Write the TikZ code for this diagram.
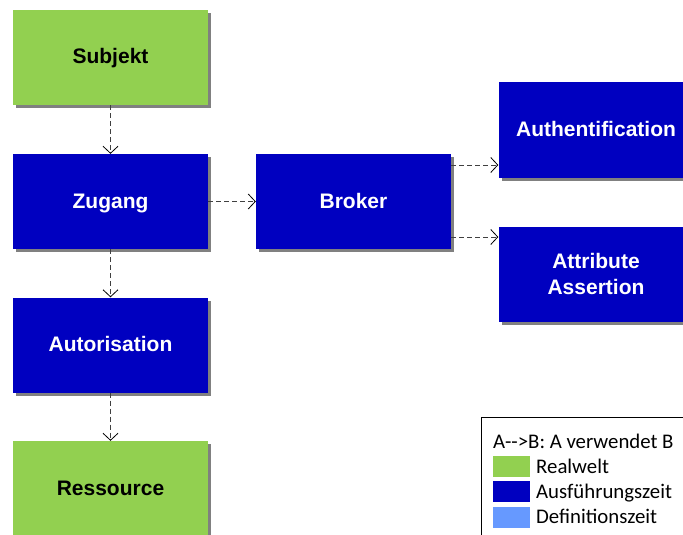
\documentclass[tikz,border=0pt]{standalone}
\usepackage{fontspec}
\setmainfont{Liberation Sans}
\newfontfamily\legendfont{Carlito}
\usetikzlibrary{arrows.meta,shadows}

\definecolor{realgreen}{RGB}{146,208,80}
\definecolor{runblue}{RGB}{0,0,192}
\definecolor{defblue}{RGB}{102,153,255}
\definecolor{shadowgray}{RGB}{128,128,128}
\definecolor{linkgray}{RGB}{64,64,64}

\tikzset{
  block/.style={rectangle, minimum width=195pt, minimum height=95pt, inner sep=0pt,
    font=\fontsize{21}{26}\selectfont\bfseries, align=center,
    drop shadow={shadow xshift=3pt, shadow yshift=-3pt, fill=shadowgray, opacity=1}},
  oneline/.style={text height=14pt, text depth=1pt},
  realblock/.style={block, oneline, fill=realgreen, text=black},
  runblock/.style={block, oneline, fill=runblue, text=white},
  tworunblock/.style={block, fill=runblue, text=white},
  link/.style={draw=linkgray, line width=0.9pt, dash pattern=on 5pt off 3pt,
    -{Straight Barb[length=7pt,width=15pt,line width=0.8pt,color=black]}},
  swatch/.style={rectangle, minimum width=37pt, minimum height=21pt, inner sep=0pt},
  legendtext/.style={anchor=base west, inner sep=0pt, font=\legendfont\fontsize{20.8}{25}\selectfont}
}

\begin{document}
\begin{tikzpicture}[x=1pt,y=-1pt]
  \useasboundingbox (0,0) rectangle (683,535);
  \clip (0,0) rectangle (683,535);

  % main flow
  \node[realblock] (subjekt) at (110.5,57.5) {Subjekt};
  \node[runblock]  (zugang)  at (110.5,201.5) {Zugang};
  \node[runblock]  (broker)  at (353.5,201.5) {Broker};
  \node[runblock]  (autor)   at (110.5,345) {Autorisation};
  \node[realblock] (ress)    at (110.5,488.5) {Ressource};
  \node[runblock]  (auth)    at (596,130) {Authentification};
  \node[tworunblock] (attr)  at (596,274) {Attribute\\Assertion};

  % usage relations
  \draw[link] (subjekt) -- (zugang);
  \draw[link] (zugang) -- (broker);
  \draw[link] (zugang) -- (autor);
  \draw[link] (autor) -- (ress);
  \draw[link] ([yshift=36.5pt]broker.east) coordinate (b1) -- (auth.west |- b1);
  \draw[link] ([yshift=-35.5pt]broker.east) coordinate (b2) -- (attr.west |- b2);

  % legend
  \node[draw=black, line width=1pt, rectangle, minimum width=230pt, minimum height=140pt,
        anchor=north west] (legend) at (481,417) {};
  \node[legendtext] (lgtitle) at (493,448) {A-{}-{}>B: A verwendet B};
  \node[swatch, fill=realgreen, anchor=north west] (sw1) at (493,456) {};
  \node[swatch, fill=runblue, anchor=north west]   (sw2) at (493,481) {};
  \node[swatch, fill=defblue, anchor=north west]   (sw3) at (493,506.5) {};
  \node[legendtext] (lg1) at (536,473) {Realwelt};
  \node[legendtext] (lg2) at (536,498) {Ausführungszeit};
  \node[legendtext] (lg3) at (536,523) {Definitionszeit};
\end{tikzpicture}
\end{document}
